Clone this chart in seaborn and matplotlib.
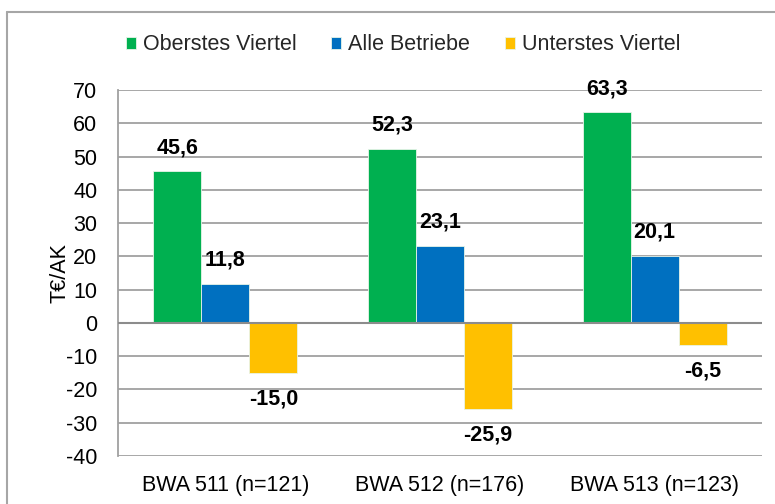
import pandas as pd
import seaborn as sns
import matplotlib.pyplot as plt
from matplotlib.lines import Line2D

# values
groups = ["BWA 511 (n=121)", "BWA 512 (n=176)", "BWA 513 (n=123)"]
series = ["Oberstes Viertel", "Alle Betriebe", "Unterstes Viertel"]
oberstes = [45.6, 52.3, 63.3]
alle = [11.8, 23.1, 20.1]
unterstes = [-15.0, -25.9, -6.5]
colors = ["#00B050", "#0070C0", "#FFC000"]
y_ticks = [70, 60, 50, 40, 30, 20, 10, 0, -10, -20, -30, -40]

df = pd.DataFrame({
    "group": groups * 3,
    "series": [series[0]] * 3 + [series[1]] * 3 + [series[2]] * 3,
    "value": oberstes + alle + unterstes,
})

sns.set_theme(style="white")
plt.rcParams["font.family"] = ["Liberation Sans", "DejaVu Sans"]
plt.rcParams["axes.unicode_minus"] = False
fs = 15.5

fig = plt.figure(figsize=(7.75, 5.04), dpi=100)
ax = fig.add_axes([118 / 775, 48 / 504, 644 / 775, 366 / 504])

sns.barplot(data=df, x="group", y="value", hue="series", hue_order=series,
            palette=colors, saturation=1, width=0.67, gap=0, ax=ax,
            edgecolor="#E8F4E8", linewidth=0.6, zorder=3)

# data labels, decimal comma like the original
for cont in ax.containers:
    for bar in cont:
        v = bar.get_height()
        x = bar.get_x() + bar.get_width() / 2
        txt = f"{v:.1f}".replace(".", ",")
        off = 17 if v >= 0 else -19
        ax.annotate(txt, (x, v), xytext=(0, off), textcoords="offset points",
                    ha="center", va="center", fontsize=fs, fontweight="bold",
                    color="black", zorder=5)

ax.set_ylim(-40, 70)
ax.set_yticks(y_ticks)
ax.set_xlim(-0.5, 2.5)
ax.yaxis.grid(True, color="#A0A0A0", linewidth=1.3, zorder=0)
ax.axhline(0, color="#8C8C8C", linewidth=1.5, zorder=4)
ax.tick_params(axis="both", length=0, labelsize=fs, colors="black")
ax.tick_params(axis="y", pad=15)
ax.tick_params(axis="x", pad=14)
ax.set_xlabel("")
ax.set_ylabel("T€/AK", fontsize=fs, color="black")
ax.yaxis.set_label_coords(-0.073, 0.5)

for side in ["top", "right", "bottom"]:
    ax.spines[side].set_visible(False)
ax.spines["left"].set_color("#A0A0A0")
ax.spines["left"].set_linewidth(1.3)

sns.move_legend(ax, "center", bbox_to_anchor=(403 / 775, 1 - 45 / 504),
                bbox_transform=fig.transFigure, ncol=3, frameon=False,
                title=None, fontsize=fs, handlelength=0.47, handleheight=0.47,
                handletextpad=0.33, columnspacing=1.6)

# outer chart frame (only left and top visible in the crop)
fig.add_artist(Line2D([7 / 775, 7 / 775], [0, 1 - 12 / 504],
                      transform=fig.transFigure, color="#A6A6A6", linewidth=1.5))
fig.add_artist(Line2D([7 / 775, 1], [1 - 12 / 504, 1 - 12 / 504],
                      transform=fig.transFigure, color="#A6A6A6", linewidth=1.5))

fig.savefig("out.png", dpi=100)
